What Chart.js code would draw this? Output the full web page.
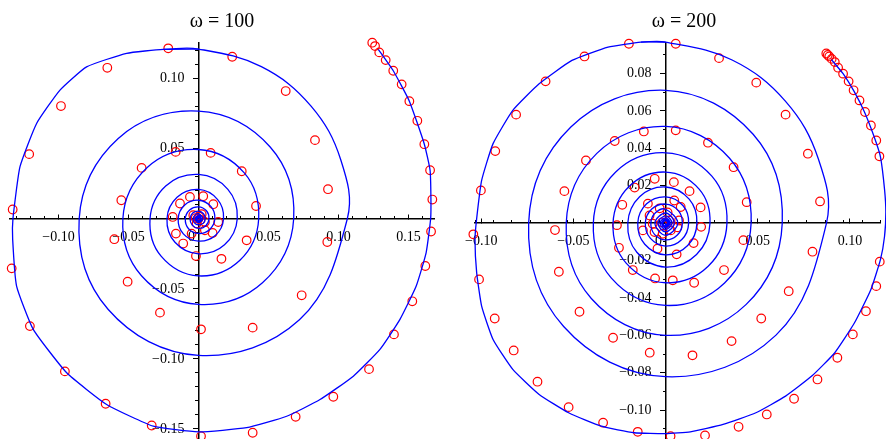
<!DOCTYPE html>
<html>
<head>
<meta charset="utf-8">
<script src="https://cdn.jsdelivr.net/npm/chart.js"></script>
<style>
  body { margin: 0; background: #fff; }
  #wrap { position: relative; width: 886px; height: 439px; overflow: hidden; }
  canvas { position: absolute; top: 0; }
  .ttl { position: absolute; top: 9px; width: 200px; text-align: center;
         font: 20px "Liberation Serif", "DejaVu Serif", serif; color: #000; }
</style>
</head>
<body>
<div id="wrap">
  <canvas id="left" width="443" height="460" style="left:0"></canvas>
  <canvas id="right" width="443" height="460" style="left:443px"></canvas>
  <div class="ttl" id="t1" style="left:122px"></div>
  <div class="ttl" id="t2" style="left:584px"></div>
</div>
<script>
// titles
const titles = ['ω = 100', 'ω = 200'];

// axis ranges [xmin, xmax, ymin, ymax] and label steps
const leftRange = [-0.1346, 0.1682, -0.1575, 0.1254];
const rightRange = [-0.1034, 0.1166, -0.1157, 0.0963];
const leftSteps = [0.05, 0.05];
const rightSteps = [0.05, 0.02];
const minorStep = 0.01;

// blue curve, omega = 100, first (outer) turn  [x, y]
const leftOuter = [
  [0.1284,0.1209],[0.1391,0.1056],[0.1506,0.0839],[0.1613,0.0532],[0.1654,0.0346],[0.166,0.015],
  [0.1658,0],[0.1626,-0.0241],[0.1555,-0.048],[0.1439,-0.0718],[0.1296,-0.0932],[0.1106,-0.1123],
  [0.0868,-0.129],[0.063,-0.1409],[0.0344,-0.1491],[0,-0.152],[-0.0323,-0.148],[-0.0656,-0.1325],
  [-0.0941,-0.1099],[-0.118,-0.0789],[-0.1299,-0.048],[-0.1327,-0.0146],[-0.1325,0],[-0.1275,0.037],
  [-0.1156,0.068],[-0.0989,0.0918],[-0.0799,0.1084],[-0.0513,0.118],[-0.0251,0.1209],[0,0.1211]
];
// blue curve, omega = 100, inner turns (starts on the last two outer points)
const leftInner = [
  [-0.0251,0.1209],[0,0.1211],
  [0.0449,0.1085],[0.0804,0.0804],[0.1016,0.0421],[0.1063,0],[0.0721,-0.0721],[0,-0.0975],[-0.0646,-0.0646],[-0.0852,0],[-0.0573,0.0573],[0,0.0768],
  [0.0512,0.0512],[0.068,0],[0.0457,-0.0457],[0,-0.0611],[-0.0407,-0.0407],[-0.054,0],[-0.0366,0.0366],[0,0.0494],
  [0.0327,0.0327],[0.043,0],[0.0296,-0.0296],[0,-0.0408],[-0.0267,-0.0267],[-0.0346,0],[-0.0234,0.0234],[0,0.0316],
  [0.021,0.021],[0.0277,0],[0.0186,-0.0186],[0,-0.025],[-0.0168,-0.0168],[-0.0225,0],[-0.0153,0.0153],[0,0.0209],
  [0.0137,0.0137],[0.0179,0],[0.012,-0.012],[0,-0.016],[-0.0108,-0.0108],[-0.0145,0],[-0.0098,0.0098],[0,0.0132],
  [0.0088,0.0088],[0.0117,0],[0.0078,-0.0078],[0,-0.0105],[-0.0071,-0.0071],[-0.0094,0],[-0.0063,0.0063],[0,0.0085],
  [0.0057,0.0057],[0.0075,0],[0.0051,-0.0051],[0,-0.0068],[-0.0045,-0.0045],[-0.006,0],[-0.0041,0.0041],[0,0.0055],
  [0.0036,0.0036],[0.0048,0],[0.0033,-0.0033],[0,-0.0044],[-0.0029,-0.0029],[-0.0039,0],[-0.0026,0.0026],[0,0.0035],
  [0.0031,0],[0,-0.0028],[-0.0025,0],[0,0.0022],[0.002,0],[0,-0.0018],[-0.0016,0],[0,0.0014],
  [0.0012,0],[0,-0.0011],[-0.001,0],[0,0.0009],[0,0]
];

// red circles, omega = 100
const leftPoints = [
  [0.1241,0.1256],[0.1261,0.1232],[0.1291,0.1187],[0.1337,0.1132],[0.1391,0.1056],[0.1451,0.0959],
  [0.1506,0.0839],[0.1563,0.0699],[0.1613,0.0532],[0.1654,0.0346],[0.167,0.0137],[0.1661,-0.0091],
  [0.162,-0.0337],[0.1527,-0.0589],[0.1396,-0.0825],[0.1218,-0.1073],[0.0963,-0.127],[0.0694,-0.1413],
  [0.0387,-0.1527],[0.0018,-0.1551],[-0.0334,-0.1475],[-0.0663,-0.132],[-0.0954,-0.1089],[-0.1204,-0.0766],
  [-0.1334,-0.0354],[-0.1327,0.0066],[-0.1209,0.0461],[-0.0982,0.0804],[-0.0651,0.1077],[-0.0216,0.1216],
  [0.0241,0.1156],[0.0623,0.0911],[0.0832,0.0561],[0.0925,0.0211],[0.092,-0.0166],[0.0737,-0.0546],
  [0.0387,-0.0777],[0.0018,-0.0789],[-0.0275,-0.067],[-0.0506,-0.0449],[-0.0601,-0.0146],[-0.0551,0.0132],
  [-0.0406,0.0363],[-0.0163,0.0477],[0.0087,0.047],[0.0309,0.0339],[0.0411,0.0091],[0.0344,-0.0154],
  [0.0164,-0.0286],[-0.0018,-0.0266],[-0.0109,-0.0177],[-0.0161,-0.0106],[-0.0184,0.0013],[-0.0132,0.0109],
  [-0.0061,0.0156],[0.0034,0.0161],[0.0106,0.0104],[0.0141,-0.0023],[0.0101,-0.0101],[0.0046,-0.0082],
  [-0.0049,-0.0106],[-0.0037,0.0025],[0.0023,0.0032],[-0.0013,-0.0034],[0.0046,-0.0023],[0,0],
  [-0.002,0.0005],[0.0015,-0.0008],[0.0005,0.0015]
];

// blue curve, omega = 200, first (outer) turn
const rightOuter = [
  [0.09,0.0874],[0.0963,0.0799],[0.1025,0.07],[0.1079,0.0594],[0.1132,0.046],[0.1166,0.0353],
  [0.1188,0.018],[0.1195,0.006],[0.1188,-0.007],[0.1166,-0.0194],[0.1114,-0.0355],[0.1025,-0.0533],
  [0.0918,-0.0693],[0.0793,-0.0818],[0.0651,-0.0925],[0.049,-0.1014],[0.0312,-0.1076],[0.0134,-0.1116],
  [0,-0.1126],[-0.017,-0.1121],[-0.0348,-0.1086],[-0.0526,-0.1014],[-0.0686,-0.0916],[-0.0829,-0.0782],
  [-0.0936,-0.0622],[-0.0998,-0.0444],[-0.1025,-0.0265],[-0.1034,-0.0087],[-0.1025,0.0024],[-0.0998,0.0228],
  [-0.0936,0.0425],[-0.0829,0.0603],[-0.0686,0.0745],[-0.0508,0.087],[-0.0312,0.0941],[-0.0134,0.0968],[0,0.0968]
];
// blue curve, omega = 200, inner turns (starts on the last two outer points)
const rightInner = [
  [-0.0134,0.0968],[0,0.0968],
  [0.0361,0.0872],[0.0651,0.0651],[0.0829,0.0343],[0.0873,0],[0.0599,-0.0599],[0,-0.0821],[-0.0553,-0.0553],[-0.0743,0],[-0.0514,0.0514],[0,0.071],
  [0.0475,0.0475],[0.0633,0],[0.0436,-0.0436],[0,-0.06],[-0.0403,-0.0403],[-0.0539,0],[-0.0373,0.0373],[0,0.0517],
  [0.0347,0.0347],[0.0464,0],[0.032,-0.032],[0,-0.044],[-0.0294,-0.0294],[-0.0392,0],[-0.0272,0.0272],[0,0.0376],
  [0.0251,0.0251],[0.0333,0],[0.0231,-0.0231],[0,-0.0319],[-0.0214,-0.0214],[-0.0285,0],[-0.0197,0.0197],[0,0.0273],
  [0.0182,0.0182],[0.0241,0],[0.0168,-0.0168],[0,-0.0235],[-0.0156,-0.0156],[-0.0205,0],[-0.0141,0.0141],[0,0.0193],
  [0.0128,0.0128],[0.017,0],[0.012,-0.012],[0,-0.017],[-0.0113,-0.0113],[-0.0151,0],[-0.0103,0.0103],[0,0.014],
  [0.0094,0.0094],[0.0125,0],[0.0088,-0.0088],[0,-0.0123],[-0.0082,-0.0082],[-0.011,0],[-0.0075,0.0075],[0,0.0102],
  [0.0068,0.0068],[0.0091,0],[0.0064,-0.0064],[0,-0.009],[-0.006,-0.006],[-0.008,0],[-0.0055,0.0055],[0,0.0074],
  [0.0066,0],[0,-0.0065],[-0.0058,0],[0,0.0054],[0.0048,0],[0,-0.0047],[-0.0042,0],[0,0.0039],
  [0.0035,0],[0,-0.0034],[-0.0031,0],[0,0.0028],[0.0025,0],[0,-0.0024],[-0.0022,0],[0,0.002],
  [0.0018,0],[0,-0.0017],[-0.0015,0],[0,0.0014],[0.0012,0],[0,-0.0011],[0,0]
];

// red circles, omega = 200
const rightPoints = [
  [0.0872,0.0907],[0.088,0.0899],[0.0888,0.0891],[0.0901,0.0878],[0.0918,0.0861],[0.0936,0.0831],
  [0.0963,0.0799],[0.0993,0.0758],[0.102,0.071],[0.1052,0.0656],[0.1082,0.0594],[0.1114,0.0522],
  [0.1143,0.0442],[0.116,0.0357],[0.1162,-0.0206],[0.1143,-0.0337],[0.1087,-0.0471],[0.1016,-0.0595],
  [0.0932,-0.072],[0.0824,-0.0836],[0.0697,-0.0939],[0.0549,-0.1023],[0.0396,-0.1089],[0.0214,-0.1135],
  [0.0027,-0.1139],[-0.0151,-0.1116],[-0.0339,-0.1067],[-0.0526,-0.0984],[-0.0695,-0.0848],[-0.0824,-0.0681],
  [-0.0927,-0.051],[-0.1012,-0.0301],[-0.1043,-0.006],[-0.1002,0.0175],[-0.0924,0.0385],[-0.0811,0.058],
  [-0.0651,0.0758],[-0.044,0.0891],[-0.0199,0.0959],[0.0055,0.0959],[0.029,0.0882],[0.0492,0.0751],
  [0.0651,0.058],[0.0772,0.0371],[0.0838,0.0116],[0.0797,-0.0153],[0.0668,-0.0364],[0.0519,-0.051],
  [0.0358,-0.0631],[0.0146,-0.0707],[-0.0086,-0.0693],[-0.0285,-0.0613],[-0.0467,-0.0474],[-0.0579,-0.026],
  [-0.06,-0.0037],[-0.0549,0.0171],[-0.0432,0.0335],[-0.0276,0.0439],[-0.0118,0.049],[0.0055,0.0496],
  [0.023,0.043],[0.0369,0.0299],[0.044,0.0112],[0.0422,-0.0091],[0.0317,-0.0251],[0.0155,-0.0319],
  [0.0039,-0.0306],[-0.0057,-0.0296],[-0.0178,-0.0251],[-0.0253,-0.0132],[-0.0264,-0.0011],[-0.0235,0.0098],
  [-0.0168,0.019],[-0.0059,0.0237],[0.0045,0.0219],[0.013,0.0171],[0.019,0.0084],[0.0193,-0.002],
  [0.0152,-0.0107],[0.006,-0.0167],[-0.0044,-0.0137],[-0.0096,0.0104],[0.0047,0.0121],[0.0082,0.0086],
  [-0.0087,0.0041],[0.0073,0.0014],[-0.007,-0.0003],[0.0064,-0.0023],[-0.006,-0.0048],[-0.0016,-0.0057],
  [0.0028,-0.0039],[-0.0123,-0.0039],[-0.0032,0.0079],[0.0011,0.0057],[-0.002,0.0004],[0.002,0.0014]
];

Chart.defaults.font.family = '"Liberation Serif", "DejaVu Serif", serif';
Chart.defaults.font.size = 14;
Chart.defaults.color = '#000';

const imgHeight = 439;

function fmt(v) {
    if (Math.abs(v) < 1e-9) return '';
    return (v < 0 ? '\u2212' : '') + Math.abs(v).toFixed(2);
}

function flatten(axis) {
    if (axis.isHorizontal()) axis.height = 0; else axis.width = 0;
    axis.paddingLeft = axis.paddingRight = axis.paddingTop = axis.paddingBottom = 0;
}

function toXY(list) {
    return list.map(function (p) { return {x: p[0], y: p[1]}; });
}

function curve(list, tension) {
    return {
        data: toXY(list),
        showLine: true,
        borderColor: '#0000ff',
        borderWidth: 1.3,
        pointRadius: 0,
        tension: tension,
        clip: false
    };
}

function showPanel(id, outer, inner, points, range, steps, padding) {
    let ctx = document.getElementById(id);
    let chartdata = {
        datasets: [curve(outer, 0.15), curve(inner, 0.38), {
            data: toXY(points),
            showLine: false,
            pointRadius: 4.3,
            pointBorderColor: '#ff0000',
            pointBackgroundColor: 'rgba(0,0,0,0)',
            pointBorderWidth: 1.2,
            clip: false
        }]
    };
    let chart = new Chart(ctx, {
        type: 'scatter',
        data: chartdata,
        options: {
            responsive: false,
            maintainAspectRatio: false,
            animation: false,
            events: [],
            layout: {padding: padding},
            plugins: {legend: {display: false}, tooltip: {enabled: false}},
            scales: {
                x: {
                    type: 'linear', min: range[0], max: range[1], position: {y: 0},
                    grid: {drawOnChartArea: false, tickLength: -5, tickColor: '#000', tickWidth: 1},
                    border: {color: '#000', width: 1.5},
                    ticks: {
                        stepSize: steps[0], includeBounds: false, autoSkip: false, maxRotation: 0,
                        maxTicksLimit: 1000, padding: 15,
                        callback: function (v) { return Math.abs(v) < 1e-9 ? '0\u2003' : fmt(v); }
                    },
                    afterFit: flatten
                },
                x2: {
                    axis: 'x', type: 'linear', min: range[0], max: range[1], position: {y: 0},
                    grid: {drawOnChartArea: false, tickLength: -3, tickColor: '#000', tickWidth: 1},
                    border: {display: false},
                    ticks: {stepSize: minorStep, includeBounds: false, autoSkip: false, maxTicksLimit: 1000, display: false},
                    afterFit: flatten
                },
                y: {
                    type: 'linear', min: range[2], max: range[3], position: {x: 0},
                    grid: {drawOnChartArea: false, tickLength: 5, tickColor: '#000', tickWidth: 1},
                    border: {color: '#000', width: 1.5},
                    ticks: {
                        stepSize: steps[1], includeBounds: false, autoSkip: false,
                        maxTicksLimit: 1000, padding: 8,
                        // labels sit on the axis line here, the em space pushes them left
                        callback: function (v) { let s = fmt(v); return s ? s + '\u2003' : ''; }
                    },
                    afterFit: flatten
                },
                y2: {
                    axis: 'y', type: 'linear', min: range[2], max: range[3], position: {x: 0},
                    grid: {drawOnChartArea: false, tickLength: 3, tickColor: '#000', tickWidth: 1},
                    border: {display: false},
                    ticks: {stepSize: minorStep, includeBounds: false, autoSkip: false, maxTicksLimit: 1000, display: false},
                    afterFit: flatten
                }
            }
        }
    });
    // the axes keep some room under the plot; grow the canvas so the plot ends at the image bottom
    let extra = chart.height - chart.chartArea.bottom;
    if (extra > 0) chart.resize(443, Math.round(imgHeight + extra));
    return chart;
}

document.getElementById('t1').textContent = titles[0];
document.getElementById('t2').textContent = titles[1];
showPanel('left', leftOuter, leftInner, leftPoints, leftRange, leftSteps, {left: 10, right: 9, top: 43, bottom: 0});
showPanel('right', rightOuter, rightInner, rightPoints, rightRange, rightSteps, {left: 32, right: 0, top: 43, bottom: 0});
</script>
</body>
</html>
